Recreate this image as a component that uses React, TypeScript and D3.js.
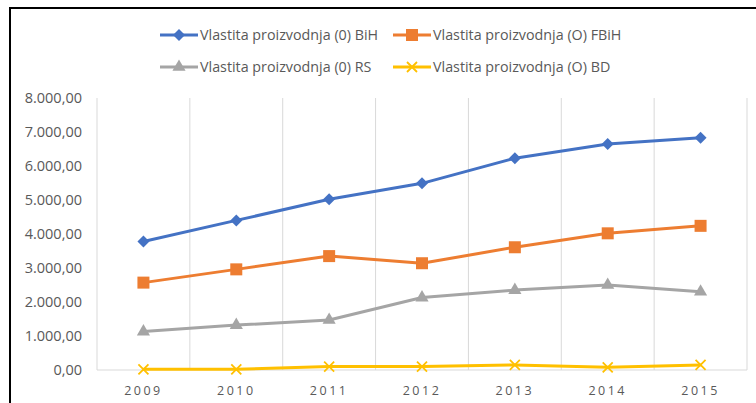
import React from "react";
import * as d3 from "d3";

const years = ["2009", "2010", "2011", "2012", "2013", "2014", "2015"];
const bihValues = [3780, 4400, 5020, 5490, 6230, 6650, 6830];
const fbihValues = [2570, 2960, 3350, 3140, 3610, 4020, 4240];
const rsValues = [1130, 1320, 1470, 2130, 2350, 2500, 2300];
const bdValues = [20, 20, 100, 100, 150, 80, 150];
const yTicks = [0, 1000, 2000, 3000, 4000, 5000, 6000, 7000, 8000];

const seriesList = [
  { name: "Vlastita proizvodnja (0) BiH", values: bihValues, color: "#4472C4", marker: "diamond" },
  { name: "Vlastita proizvodnja (O) FBiH", values: fbihValues, color: "#ED7D31", marker: "square" },
  { name: "Vlastita proizvodnja (0) RS", values: rsValues, color: "#A5A5A5", marker: "triangle" },
  { name: "Vlastita proizvodnja (O) BD", values: bdValues, color: "#FFC000", marker: "x" },
];

const width = 756;
const height = 403;
const margin = { left: 97, right: 9, top: 98, bottom: 33 };
const font = "'Open Sans', sans-serif";

const fmt = (v: number) => {
  const s = d3.format(",.2f")(v);
  return s.replace(/,/g, "#").replace(".", ",").replace(/#/g, ".");
};

function Marker({ type, x, y, color }: { type: string; x: number; y: number; color: string }) {
  if (type === "diamond") {
    const r = 6;
    return <path d={`M${x},${y - r}L${x + r},${y}L${x},${y + r}L${x - r},${y}Z`} fill={color} />;
  }
  if (type === "square") {
    return <rect x={x - 6} y={y - 6} width={12} height={12} fill={color} />;
  }
  if (type === "triangle") {
    const p = d3.symbol(d3.symbolTriangle, 75)();
    return <path d={p!} transform={`translate(${x},${y})`} fill={color} />;
  }
  const r = 5;
  return (
    <path
      d={`M${x - r},${y - r}L${x + r},${y + r}M${x - r},${y + r}L${x + r},${y - r}`}
      stroke={color}
      strokeWidth={1.8}
      fill="none"
    />
  );
}

export default function App() {
  const x = d3
    .scaleBand<string>()
    .domain(years)
    .range([margin.left, width - margin.right]);
  const y = d3
    .scaleLinear()
    .domain([0, 8000])
    .range([height - margin.bottom, margin.top]);

  const line = d3
    .line<number>()
    .x((_, i) => x(years[i])! + x.bandwidth() / 2)
    .y((d) => y(d));

  const boundaries = years.map((yr) => x(yr)!).concat([x.range()[1]]);

  const legendPos = [
    { lx: 160, ly: 35 },
    { lx: 393, ly: 35 },
    { lx: 160, ly: 67 },
    { lx: 393, ly: 67 },
  ];

  return (
    <svg
      width={width}
      height={height}
      style={{ position: "absolute", left: 0, top: 0, background: "#fff" }}
    >
      <rect x={0} y={0} width={width} height={height} fill="#fff" />
      <rect x={10} y={8} width={width + 20} height={height + 20} fill="none" stroke="#000" strokeWidth={2} />

      {/* vertical gridlines */}
      {boundaries.map((bx, i) => (
        <line key={i} x1={bx} x2={bx} y1={y(8000)} y2={y(0)} stroke="#D9D9D9" strokeWidth={1} />
      ))}
      <line x1={margin.left} x2={width - margin.right} y1={y(0)} y2={y(0)} stroke="#D9D9D9" strokeWidth={1} />

      {/* y tick labels */}
      {yTicks.map((t) => (
        <text
          key={t}
          x={82}
          y={y(t)}
          dy="0.35em"
          textAnchor="end"
          fontFamily={font}
          fontSize={14.5}
          fill="#595959"
        >
          {fmt(t)}
        </text>
      ))}

      {/* x labels */}
      {years.map((yr) => (
        <text
          key={yr}
          x={x(yr)! + x.bandwidth() / 2}
          y={395}
          textAnchor="middle"
          fontFamily={font}
          fontSize={12.5}
          letterSpacing={2.5}
          fill="#595959"
        >
          {yr}
        </text>
      ))}

      {/* series */}
      {seriesList.map((s) => (
        <g key={s.name}>
          <path d={line(s.values)!} fill="none" stroke={s.color} strokeWidth={3} strokeLinejoin="round" />
          {s.values.map((v, i) => (
            <Marker key={i} type={s.marker} x={x(years[i])! + x.bandwidth() / 2} y={y(v)} color={s.color} />
          ))}
        </g>
      ))}

      {/* legend */}
      {seriesList.map((s, i) => {
        const { lx, ly } = legendPos[i];
        return (
          <g key={s.name}>
            <line x1={lx} x2={lx + 38} y1={ly} y2={ly} stroke={s.color} strokeWidth={3} />
            <Marker type={s.marker} x={lx + 19} y={ly} color={s.color} />
            <text x={lx + 40} y={ly} dy="0.35em" fontFamily={font} fontSize={14.3} fill="#595959">
              {s.name}
            </text>
          </g>
        );
      })}
    </svg>
  );
}
